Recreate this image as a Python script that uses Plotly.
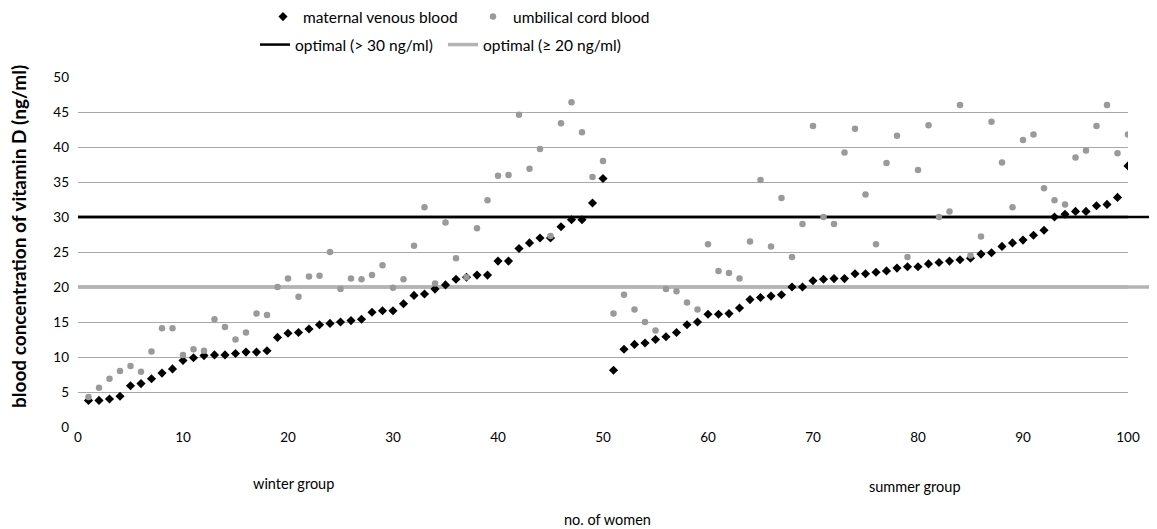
import plotly.graph_objects as go

women = list(range(1, 101))
maternal = [3.8, 3.8, 4.0, 4.4, 5.9, 6.2, 6.9, 7.7, 8.3, 9.5,
            9.9, 10.2, 10.3, 10.3, 10.5, 10.7, 10.7, 10.9, 12.8, 13.4,
            13.5, 14.0, 14.6, 14.8, 15.0, 15.2, 15.4, 16.4, 16.6, 16.6,
            17.6, 18.8, 19.0, 19.7, 20.3, 21.1, 21.4, 21.7, 21.7, 23.7,
            23.7, 25.5, 26.3, 27.0, 27.0, 28.6, 29.6, 29.6, 32.0, 35.5,
            8.1, 11.1, 11.8, 12.0, 12.5, 12.9, 13.5, 14.6, 15.0, 16.1,
            16.1, 16.2, 17.0, 18.2, 18.5, 18.7, 18.9, 20.0, 20.0, 20.9,
            21.1, 21.2, 21.2, 21.9, 21.9, 22.1, 22.3, 22.7, 22.9, 22.9,
            23.3, 23.5, 23.7, 23.9, 24.1, 24.7, 24.9, 25.8, 26.3, 26.7,
            27.4, 28.1, 30.0, 30.4, 30.8, 30.8, 31.6, 31.8, 32.8, 37.3]
umbilical = [4.3, 5.6, 6.9, 8.0, 8.7, 7.9, 10.8, 14.1, 14.1, 10.3,
             11.1, 10.9, 15.4, 14.3, 12.5, 13.5, 16.2, 16.0, 20.0, 21.2,
             18.6, 21.5, 21.6, 25.0, 19.7, 21.2, 21.1, 21.7, 23.1, 19.9,
             21.1, 25.9, 31.4, 20.5, 29.2, 24.1, 21.4, 28.4, 32.4, 35.9,
             36.0, 44.6, 36.9, 39.7, 27.3, 43.4, 46.4, 42.1, 35.7, 38.0,
             16.2, 18.9, 16.8, 15.0, 13.8, 19.7, 19.4, 17.8, 16.8, 26.1,
             22.3, 22.0, 21.2, 26.5, 35.3, 25.8, 32.7, 24.3, 29.0, 43.0,
             30.0, 29.0, 39.2, 42.6, 33.2, 26.1, 37.7, 41.6, 24.3, 36.7,
             43.1, 30.0, 30.8, 46.0, 24.5, 27.2, 43.6, 37.8, 31.4, 41.0,
             41.8, 34.1, 32.4, 31.8, 38.5, 39.5, 43.0, 46.0, 39.1, 41.8]
opt_high = 30
opt_low = 20
x_ticks = [0, 10, 20, 30, 40, 50, 60, 70, 80, 90, 100]
y_ticks = [0, 5, 10, 15, 20, 25, 30, 35, 40, 45, 50]

FONT = "Lato, 'Liberation Sans Narrow', sans-serif"
BLACK_LINE = "#000000"
GRAY_LINE = "#b4b4b4"

W, H = 1157, 529
OFF = 8  # page body margin offset

fig = go.Figure()

fig.add_trace(go.Scatter(x=[0, 100], y=[opt_high, opt_high], mode="lines",
                         line=dict(color=BLACK_LINE, width=2.5),
                         name="optimal (> 30 ng/ml)", legend="legend2"))
fig.add_trace(go.Scatter(x=[0, 100], y=[opt_low, opt_low], mode="lines",
                         line=dict(color=GRAY_LINE, width=3.5),
                         name="optimal (≥ 20 ng/ml)", legend="legend2"))

fig.add_trace(go.Scatter(x=women, y=maternal, mode="markers",
                         marker=dict(symbol="diamond", color="#000000", size=7),
                         name="maternal venous blood", legend="legend"))
fig.add_trace(go.Scatter(x=women, y=umbilical, mode="markers",
                         marker=dict(symbol="circle", color="#9a9a9a", size=6.5),
                         name="umbilical cord blood", legend="legend"))

fig.add_shape(type="line", xref="paper", yref="y", x0=0, x1=1.04,
              y0=opt_high, y1=opt_high, line=dict(color=BLACK_LINE, width=2.5),
              layer="below")
fig.add_shape(type="line", xref="paper", yref="y", x0=0, x1=1.04,
              y0=opt_low, y1=opt_low, line=dict(color=GRAY_LINE, width=3.5),
              layer="below")

fig.update_layout(
    width=W, height=H,
    margin=dict(l=78 - OFF, r=W + OFF - 1128, t=77 - OFF, b=H + OFF - 427,
                autoexpand=False),
    paper_bgcolor="white", plot_bgcolor="white",
    font=dict(family=FONT, size=13, color="#000000"),
    showlegend=True,
    legend=dict(orientation="h", xref="container", yref="container",
                x=(263 - OFF) / W, y=1 - (17 - OFF) / H, xanchor="left",
                yanchor="middle", font=dict(size=15.5, family=FONT),
                entrywidth=165, bgcolor="rgba(0,0,0,0)"),
    legend2=dict(orientation="h", xref="container", yref="container",
                 x=(255 - OFF) / W, y=1 - (45 - OFF) / H, xanchor="left",
                 yanchor="middle", font=dict(size=15.5, family=FONT),
                 entrywidth=143, bgcolor="rgba(0,0,0,0)"),
    xaxis=dict(range=[0, 100], tickvals=x_ticks, showgrid=False, zeroline=False,
               showline=False, ticks="", tickfont=dict(size=13.5)),
    yaxis=dict(range=[0, 50], tickvals=y_ticks, showgrid=True,
               gridcolor="#a8a8a8", gridwidth=1, zeroline=False,
               showline=False, ticks="", tickfont=dict(size=13.5),
               ticklabelstandoff=8),
    annotations=[
        dict(text="winter group", x=20.5, y=-0.16, xref="x", yref="paper",
             yanchor="middle", showarrow=False, font=dict(size=14.5, family=FONT)),
        dict(text="summer group", x=79.7, y=-0.171, xref="x", yref="paper",
             yanchor="middle", showarrow=False, font=dict(size=14.5, family=FONT)),
        dict(text="no. of women", x=(607 - 78) / 1050, y=-0.263, xref="paper",
             yref="paper", yanchor="middle", showarrow=False,
             font=dict(size=14.5, family=FONT)),
        dict(text="<b>blood concentration of vitamin D (ng/ml)</b>",
             x=(18 - 78) / 1050, y=(427 - 237) / 350, xref="paper", yref="paper",
             xanchor="center", yanchor="middle",
             textangle=-90, showarrow=False, font=dict(size=19, family=FONT)),
    ],
)

fig.write_html("out.html")
